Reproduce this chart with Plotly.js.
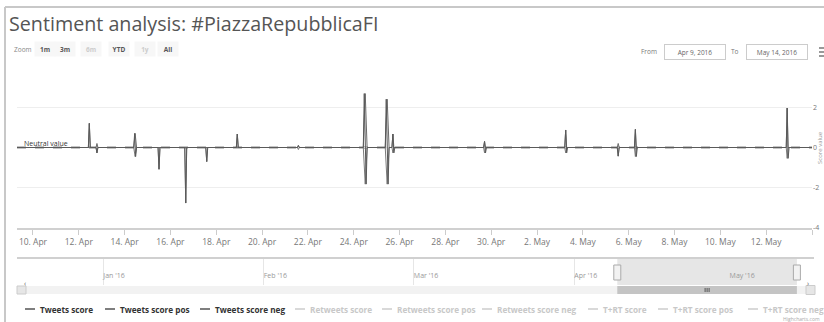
<!DOCTYPE html>
<html>
<head>
<meta charset="utf-8">
<script src="https://cdn.plot.ly/plotly-3.0.1.min.js"></script>
<style>html,body{margin:0;padding:0;background:#fff;}#chart{width:824px;height:322px;}</style>
</head>
<body>
<div id="chart"></div>
<script>
// ---------- DATA ----------
const titleText = 'Sentiment analysis: #PiazzaRepubblicaFI';

const scoreX = ['2016-04-09 00:00',
 '2016-04-12 10:00','2016-04-12 11:00','2016-04-12 12:00',
 '2016-04-12 18:00','2016-04-12 19:00','2016-04-12 20:00',
 '2016-04-14 09:30','2016-04-14 10:30','2016-04-14 11:30','2016-04-14 12:30',
 '2016-04-15 11:00','2016-04-15 12:00','2016-04-15 13:00',
 '2016-04-16 15:00','2016-04-16 16:00','2016-04-16 17:00',
 '2016-04-17 13:00','2016-04-17 14:00','2016-04-17 15:00',
 '2016-04-18 21:00','2016-04-18 22:00','2016-04-18 23:00',
 '2016-04-21 13:00','2016-04-21 14:00','2016-04-21 15:00',
 '2016-04-24 10:00','2016-04-24 11:00','2016-04-24 13:00','2016-04-24 14:00',
 '2016-04-25 09:00','2016-04-25 10:00','2016-04-25 12:00','2016-04-25 13:00',
 '2016-04-25 16:00','2016-04-25 17:00','2016-04-25 18:00','2016-04-25 19:00',
 '2016-04-29 16:00','2016-04-29 17:00','2016-04-29 18:00','2016-04-29 19:00',
 '2016-05-03 05:00','2016-05-03 06:00','2016-05-03 07:00','2016-05-03 08:00',
 '2016-05-05 12:00','2016-05-05 13:00','2016-05-05 14:00',
 '2016-05-06 06:00','2016-05-06 07:00','2016-05-06 08:00','2016-05-06 09:00',
 '2016-05-12 21:00','2016-05-12 22:00','2016-05-12 23:00','2016-05-13 00:00',
 '2016-05-14 00:00'];
const scoreY = [0,
 0,1.2,0,
 0,-0.27,0,
 0,0.7,-0.45,0,
 0,-1.08,0,
 0,-2.76,0,
 0,-0.7,0,
 0,0.67,0,
 0,0.1,0,
 0,2.68,-1.82,0,
 0,2.4,-1.82,0,
 0,0.67,-0.27,0,
 0,0.3,-0.27,0,
 0,0.87,-0.27,0,
 0,-0.43,0,
 0,0.9,-0.45,0,
 0,1.96,-0.54,0,
 0];

const posX = ['2016-04-09 00:00',
 '2016-04-12 10:00','2016-04-12 11:00','2016-04-12 12:00',
 '2016-04-12 18:00','2016-04-12 19:00','2016-04-12 20:00',
 '2016-04-14 09:30','2016-04-14 11:00','2016-04-14 12:30',
 '2016-04-18 21:00','2016-04-18 22:00','2016-04-18 23:00',
 '2016-04-21 13:00','2016-04-21 14:00','2016-04-21 15:00',
 '2016-04-24 10:00','2016-04-24 12:00','2016-04-24 14:00',
 '2016-04-25 09:00','2016-04-25 11:00','2016-04-25 13:00',
 '2016-04-25 16:00','2016-04-25 17:00','2016-04-25 18:00',
 '2016-04-29 16:00','2016-04-29 17:00','2016-04-29 18:00',
 '2016-05-03 05:00','2016-05-03 06:00','2016-05-03 07:00',
 '2016-05-05 12:00','2016-05-05 13:00','2016-05-05 14:00',
 '2016-05-06 06:00','2016-05-06 07:00','2016-05-06 08:00',
 '2016-05-12 21:00','2016-05-12 22:00','2016-05-12 23:00',
 '2016-05-14 00:00'];
const posY = [0,
 0,1.2,0,
 0,0.2,0,
 0,0.7,0,
 0,0.67,0,
 0,0.1,0,
 0,2.68,0,
 0,2.4,0,
 0,0.67,0,
 0,0.3,0,
 0,0.87,0,
 0,0.2,0,
 0,0.9,0,
 0,1.96,0,
 0];

const negX = ['2016-04-09 00:00',
 '2016-04-12 18:00','2016-04-12 19:00','2016-04-12 20:00',
 '2016-04-14 09:30','2016-04-14 11:00','2016-04-14 12:30',
 '2016-04-15 11:00','2016-04-15 12:00','2016-04-15 13:00',
 '2016-04-16 15:00','2016-04-16 16:00','2016-04-16 17:00',
 '2016-04-17 13:00','2016-04-17 14:00','2016-04-17 15:00',
 '2016-04-21 13:00','2016-04-21 14:00','2016-04-21 15:00',
 '2016-04-24 10:00','2016-04-24 12:00','2016-04-24 14:00',
 '2016-04-25 09:00','2016-04-25 11:00','2016-04-25 13:00',
 '2016-04-25 16:00','2016-04-25 17:00','2016-04-25 18:00',
 '2016-04-29 16:00','2016-04-29 17:00','2016-04-29 18:00',
 '2016-05-03 05:00','2016-05-03 06:00','2016-05-03 07:00',
 '2016-05-05 12:00','2016-05-05 13:00','2016-05-05 14:00',
 '2016-05-06 06:00','2016-05-06 07:00','2016-05-06 08:00',
 '2016-05-12 21:00','2016-05-12 22:00','2016-05-12 23:00',
 '2016-05-14 00:00'];
const negY = [0,
 0,-0.27,0,
 0,-0.45,0,
 0,-1.08,0,
 0,-2.76,0,
 0,-0.7,0,
 0,-0.1,0,
 0,-1.82,0,
 0,-1.82,0,
 0,-0.27,0,
 0,-0.27,0,
 0,-0.27,0,
 0,-0.43,0,
 0,-0.45,0,
 0,-0.54,0,
 0];

const yTickVals = [-4, -2, 0, 2, 4];
const yTickText = ['-4', '-2', '0', '2', ''];

const viewStart = '2016-04-09 07:15';
const viewEnd = '2016-05-14 00:00';
const navStart = '2015-12-15 08:00';
const navEnd = '2016-05-16 22:00';

const zoomButtons = ['1m', '3m', '6m', 'YTD', '1y', 'All'];
const zoomEnabled = [true, true, false, true, false, true];
const fromText = 'Apr 9, 2016';
const toText = 'May 14, 2016';

const legendNames = ['Tweets score', 'Tweets score pos', 'Tweets score neg',
  'Retweets score', 'Retweets score pos', 'Retweets score neg',
  'T+RT score', 'T+RT score pos', 'T+RT score neg'];
const legendShown = [true, true, true, false, false, false, false, false, false];

// ---------- LAYOUT HELPERS ----------
const W = 824, H = 322;
const px = x => x / W;
const py = y => 1 - y / H;
const FONT = 'Open Sans, Liberation Sans, sans-serif';

const traces = [
  {x: negX, y: negY, type: 'scatter', mode: 'lines', name: 'Tweets score neg',
   line: {color: '#7a7a7a', width: 1}, xaxis: 'x', yaxis: 'y', hoverinfo: 'skip'},
  {x: posX, y: posY, type: 'scatter', mode: 'lines', name: 'Tweets score pos',
   line: {color: '#6a6a6a', width: 1}, xaxis: 'x', yaxis: 'y', hoverinfo: 'skip'},
  {x: scoreX, y: scoreY, type: 'scatter', mode: 'lines', name: 'Tweets score',
   line: {color: '#5a5a5a', width: 1}, xaxis: 'x', yaxis: 'y', hoverinfo: 'skip'}
];

const shapes = [];
const annotations = [];

// frame of the screenshot
shapes.push({type: 'line', xref: 'paper', yref: 'paper', x0: px(5), x1: 1, y0: py(7), y1: py(7), line: {color: '#c8c8c8', width: 2}});
shapes.push({type: 'line', xref: 'paper', yref: 'paper', x0: px(5), x1: px(5), y0: py(7), y1: 0, line: {color: '#c8c8c8', width: 2}});

// neutral value plot line
shapes.push({type: 'line', xref: 'x domain', yref: 'y', x0: 0, x1: 1, y0: 0, y1: 0, layer: 'below',
  line: {color: '#8a8a8a', width: 2, dash: 'dash'}});
annotations.push({xref: 'paper', yref: 'paper', x: px(22), y: py(143), xanchor: 'left', yanchor: 'middle',
  text: 'Neutral value', showarrow: false, font: {family: FONT, size: 7, color: '#333'}});

// y axis title (cut at the right edge)
annotations.push({xref: 'paper', yref: 'paper', x: px(820), y: py(148), xanchor: 'center', yanchor: 'middle',
  text: 'Score value', textangle: -90, showarrow: false, font: {family: FONT, size: 6, color: '#999'}});

// range selector
annotations.push({xref: 'paper', yref: 'paper', x: px(12), y: py(49), xanchor: 'left', yanchor: 'middle',
  text: 'Zoom', showarrow: false, font: {family: FONT, size: 6.5, color: '#888'}});
const btnCenters = [45, 65, 91, 119, 145, 168];
zoomButtons.forEach((b, i) => {
  annotations.push({xref: 'paper', yref: 'paper', x: px(btnCenters[i]), y: py(49), xanchor: 'center', yanchor: 'middle',
    text: b, showarrow: false, width: 18, height: 12, bgcolor: '#f7f7f7',
    font: {family: FONT, size: 6.5, color: zoomEnabled[i] ? '#555' : '#ccc', weight: 'bold'}});
});

// From / To inputs
annotations.push({xref: 'paper', yref: 'paper', x: px(659), y: py(52), xanchor: 'right', yanchor: 'middle',
  text: 'From', showarrow: false, font: {family: FONT, size: 6.5, color: '#777'}});
annotations.push({xref: 'paper', yref: 'paper', x: px(694.5), y: py(52), xanchor: 'center', yanchor: 'middle',
  text: fromText, showarrow: false, width: 58, height: 12, bordercolor: '#ccc', borderwidth: 1, bgcolor: '#fff',
  font: {family: FONT, size: 6.5, color: '#666'}});
annotations.push({xref: 'paper', yref: 'paper', x: px(741), y: py(52), xanchor: 'right', yanchor: 'middle',
  text: 'To', showarrow: false, font: {family: FONT, size: 6.5, color: '#777'}});
annotations.push({xref: 'paper', yref: 'paper', x: px(776.5), y: py(52), xanchor: 'center', yanchor: 'middle',
  text: toText, showarrow: false, width: 58, height: 12, bordercolor: '#ccc', borderwidth: 1, bgcolor: '#fff',
  font: {family: FONT, size: 6.5, color: '#666'}});
// export icon (cut off)
[48, 52, 56].forEach(yy => shapes.push({type: 'line', xref: 'paper', yref: 'paper', x0: px(819), x1: 1, y0: py(yy), y1: py(yy), line: {color: '#777', width: 1.5}}));

// navigator
shapes.push({type: 'rect', xref: 'x2', yref: 'paper', x0: viewStart, x1: viewEnd, y0: py(285), y1: py(258),
  fillcolor: 'rgba(205,205,205,0.5)', line: {width: 0}, layer: 'below'});
shapes.push({type: 'line', xref: 'paper', yref: 'paper', x0: px(17), x1: px(814), y0: py(258), y1: py(258), line: {color: '#d0d0d0', width: 2}});
[viewStart, viewEnd].forEach(d => {
  shapes.push({type: 'rect', xref: 'x2', yref: 'paper', xsizemode: 'pixel', xanchor: d, x0: -3.5, x1: 3.5,
    y0: py(280), y1: py(265), fillcolor: '#f2f2f2', line: {color: '#aaa', width: 1}});
});
// scrollbar
shapes.push({type: 'rect', xref: 'paper', yref: 'paper', x0: px(17), x1: px(806), y0: py(294), y1: py(286), fillcolor: '#f2f2f2', line: {width: 0}});
shapes.push({type: 'rect', xref: 'x2', yref: 'paper', x0: viewStart, x1: viewEnd, y0: py(294), y1: py(286), fillcolor: '#c4c4c4', line: {width: 0}});
shapes.push({type: 'rect', xref: 'paper', yref: 'paper', x0: px(17), x1: px(26), y0: py(294), y1: py(286), fillcolor: '#e6e6e6', line: {color: '#ccc', width: 1}});
shapes.push({type: 'rect', xref: 'paper', yref: 'paper', x0: px(806), x1: px(815), y0: py(294.5), y1: py(285.5), fillcolor: '#e6e6e6', line: {color: '#ccc', width: 1}});
annotations.push({xref: 'paper', yref: 'paper', x: px(21.5), y: py(290), text: '‹', showarrow: false, font: {family: FONT, size: 7, color: '#555'}});
annotations.push({xref: 'paper', yref: 'paper', x: px(810.5), y: py(290), text: '›', showarrow: false, font: {family: FONT, size: 7, color: '#555'}});
const gripCenter = new Date((Date.parse(viewStart.replace(' ', 'T')) + Date.parse(viewEnd.replace(' ', 'T'))) / 2);
[-2, 0, 2].forEach(o => shapes.push({type: 'line', xref: 'x2', yref: 'paper', xsizemode: 'pixel', xanchor: gripCenter, x0: o, x1: o,
  y0: py(292), y1: py(288), line: {color: '#555', width: 1}}));

// legend (custom, Highcharts-style)
const legendX = [25, 105, 200, 295, 382, 482, 588, 658, 748];
legendNames.forEach((n, i) => {
  const c = legendShown[i] ? '#555' : '#ccc';
  shapes.push({type: 'line', xref: 'paper', yref: 'paper', x0: px(legendX[i]), x1: px(legendX[i] + 10), y0: py(309), y1: py(309), line: {color: c, width: 1.5}});
  annotations.push({xref: 'paper', yref: 'paper', x: px(legendX[i] + 13), y: py(309), xanchor: 'left', yanchor: 'middle',
    text: n, showarrow: false, font: {family: FONT, size: 8.2, color: legendShown[i] ? '#333' : '#c8c8c8', weight: 'bold'}});
});
annotations.push({xref: 'paper', yref: 'paper', x: px(822), y: py(319), xanchor: 'right', yanchor: 'middle',
  text: 'Highcharts.com', showarrow: false, font: {family: FONT, size: 5, color: '#aaa'}});

const layout = {
  width: W, height: H,
  margin: {l: 0, r: 0, t: 0, b: 0, pad: 0},
  paper_bgcolor: '#fff', plot_bgcolor: 'rgba(0,0,0,0)',
  showlegend: false,
  title: {text: titleText, xref: 'paper', yref: 'paper', x: px(9), y: py(24), xanchor: 'left', yanchor: 'middle',
    font: {family: FONT, size: 19.7, color: '#555'}},
  xaxis: {domain: [px(17), px(812)], anchor: 'y', type: 'date', range: [viewStart, viewEnd],
    tick0: '2016-04-10', dtick: 172800000, tickformat: '%-d. %b',
    ticks: 'outside', ticklen: 5, tickcolor: '#ccc', showgrid: false, zeroline: false,
    showline: true, linecolor: '#d0d0d0', linewidth: 2,
    tickfont: {family: FONT, size: 8.5, color: '#777'}, fixedrange: true},
  yaxis: {domain: [py(228), py(67)], anchor: 'x', range: [-4, 4], side: 'right',
    tickmode: 'array', tickvals: yTickVals, ticktext: yTickText,
    gridcolor: '#eeeeee', gridwidth: 1, zeroline: false, showline: false, ticks: '',
    tickfont: {family: FONT, size: 7, color: '#777'}, fixedrange: true},
  xaxis2: {domain: [px(17), px(812)], anchor: 'y2', type: 'date', range: [navStart, navEnd],
    tick0: '2016-01-01', dtick: 'M1', tickformat: "%b '%y", ticklabelposition: 'inside right',
    showgrid: true, gridcolor: '#e6e6e6', ticks: '', showline: false, zeroline: false,
    tickfont: {family: FONT, size: 7, color: '#999'}, fixedrange: true},
  yaxis2: {domain: [py(285), py(258)], anchor: 'x2', range: [0, 1], visible: false, fixedrange: true},
  shapes: shapes,
  annotations: annotations
};

Plotly.newPlot('chart', traces, layout, {displayModeBar: false, staticPlot: true});
</script>
</body>
</html>
